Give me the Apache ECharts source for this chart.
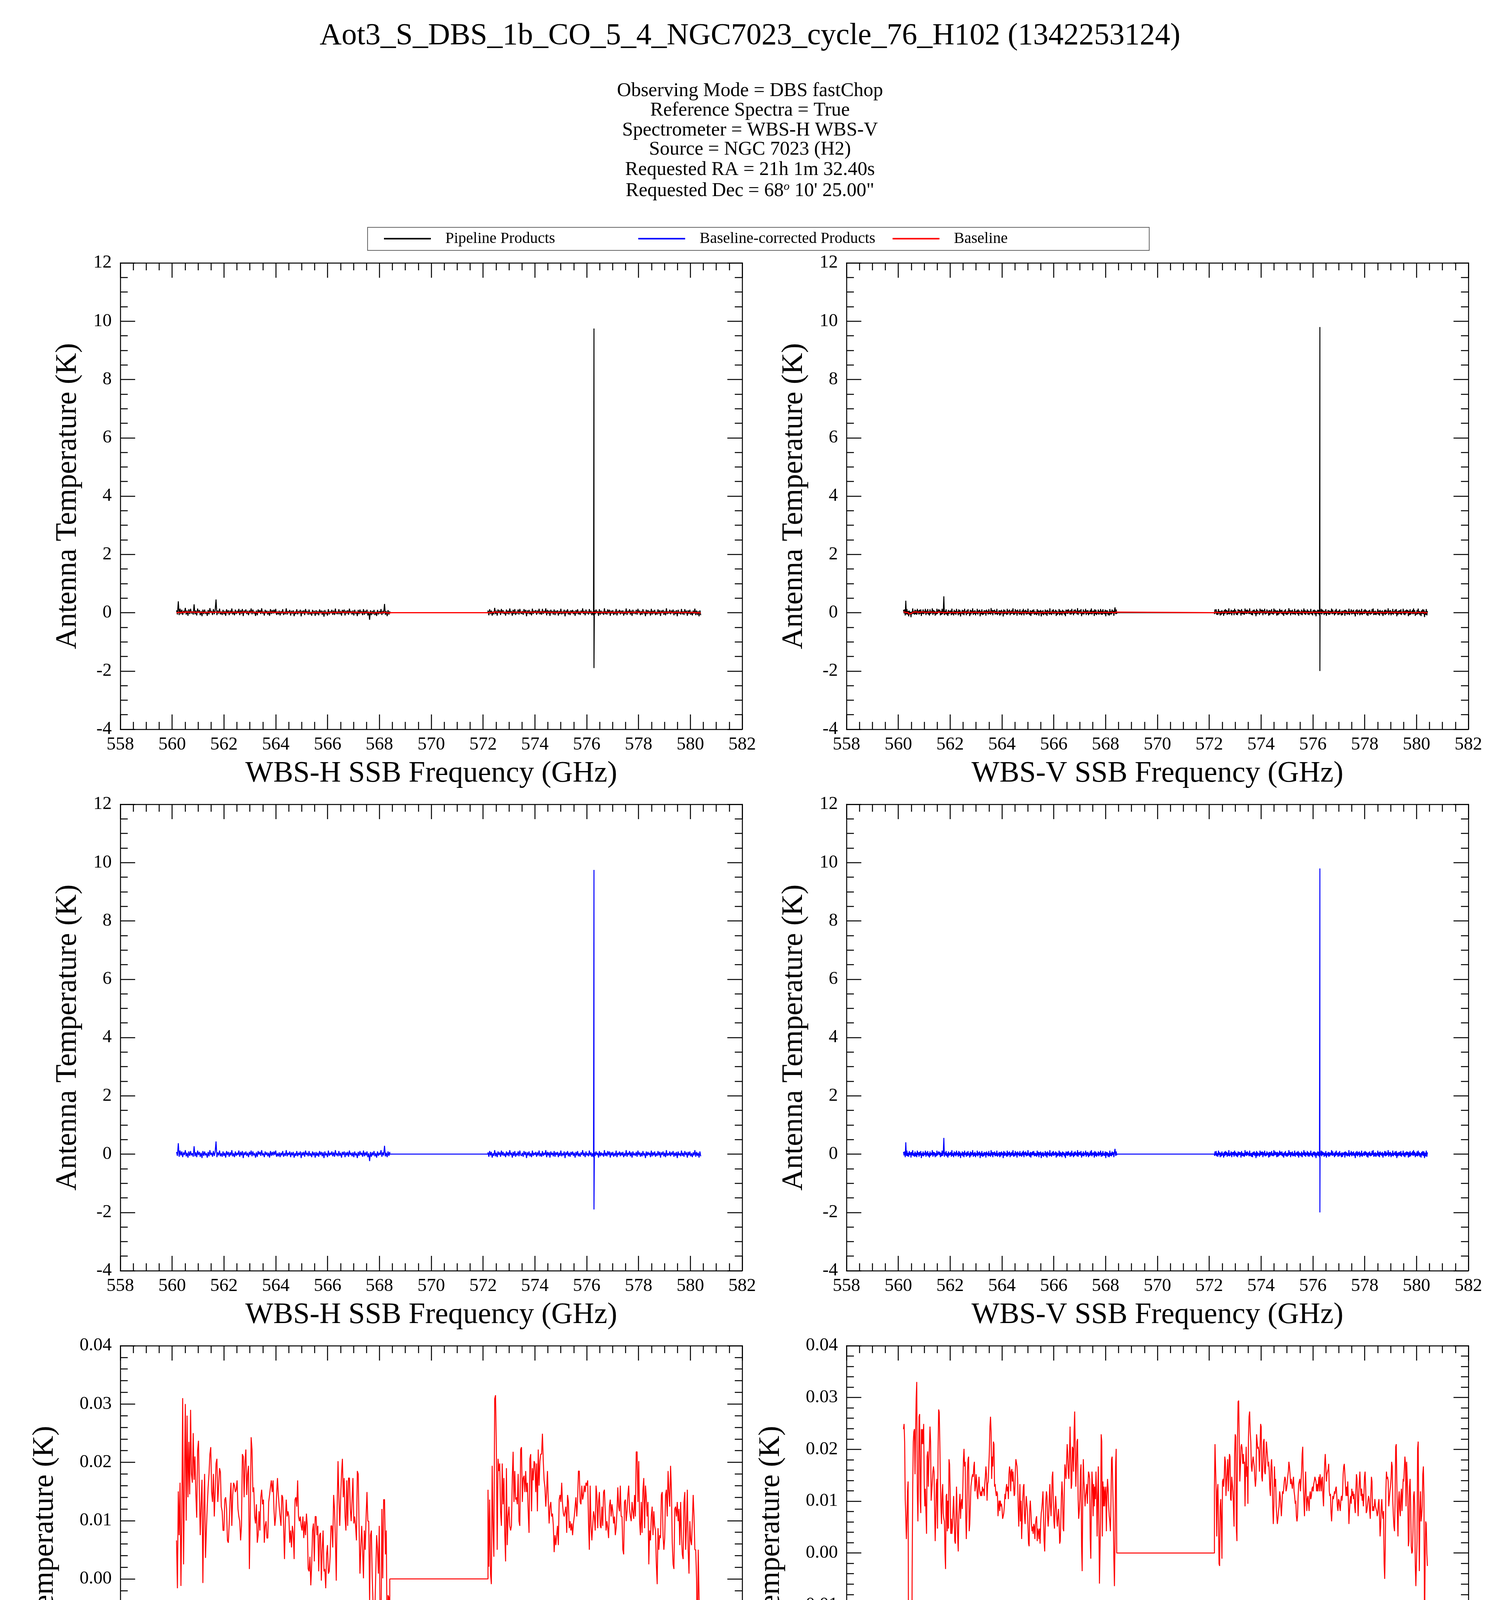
<!DOCTYPE html>
<html><head><meta charset="utf-8">
<script src="https://cdn.jsdelivr.net/npm/echarts@6/dist/echarts.min.js"></script>
<style>html,body{margin:0;padding:0;background:#fff}#c{width:3840px;height:4872px}</style>
</head><body><div id="c"></div>
<script>
// ---------- text ----------
const TITLE = 'Aot3_S_DBS_1b_CO_5_4_NGC7023_cycle_76_H102 (1342253124)';
const INFO_LINES = ['Observing Mode = DBS fastChop','Reference Spectra = True','Spectrometer = WBS-H WBS-V','Source = NGC 7023 (H2)','Requested RA = 21h 1m 32.40s',"Requested Dec = 68{sup|o} 10' 25.00\""];
const LEGEND_NAMES = ['Pipeline Products','Baseline-corrected Products','Baseline'];
const X_TITLES = ['WBS-H SSB Frequency (GHz)','WBS-V SSB Frequency (GHz)'];
const Y_TITLE = 'Antenna Temperature (K)';
// ---------- axes ----------
const X_RANGE = [558, 582], X_STEP = 2;
const Y_TOP = [-4, 12], Y_TOP_STEP = 2;
const Y_BASE_H = [-0.04, 0.04], Y_BASE_V = [-0.05, 0.04], Y_BASE_STEP = 0.01;
// ---------- channel ranges (GHz) ----------
const H_SEG1 = [560.17, 568.40], H_SEG2 = [572.19, 580.40];
const V_SEG1 = [560.20, 568.43], V_SEG2 = [572.20, 580.42];
const GAP_LEVEL = 0;
// ---------- strong line ----------
const H_LINE = {freq: 576.28, peak: 9.75, trough: -1.90};
const V_LINE = {freq: 576.27, peak: 9.80, trough: -2.00};
// ---------- baselines (K) ----------
const baseH1 = [0.0066,-0.0016,0.015,0.0075,0.0165,-0.0012,0.011,0.031,0.0025,0.017,0.030,0.010,0.028,0.014,0.0235,0.0145,0.029,0.018,0.0165,0.025,0.017,0.021,0.0145,0.0105,0.022,0.0237,0.0149,0.0075,0.013,0.017,-0.0007,0.0116,0.018,0.0036,0.0083,0.0124,0.0157,0.018,0.0214,0.0226,0.0149,0.0132,0.018,0.0107,0.0149,0.0198,0.0206,0.0132,0.016,0.019,0.0183,0.0124,0.0116,0.0083,0.0083,0.0136,0.014,0.012,0.0066,0.0062,0.0095,0.0136,0.0165,0.0091,0.0144,0.0165,0.016,0.0149,0.0153,0.0169,0.012,0.0107,0.0099,0.0066,0.0091,0.0214,0.021,0.014,0.0202,0.0222,0.0144,0.018,0.0194,0.0017,0.0107,0.0243,0.0222,0.0149,0.0157,0.0107,0.0095,0.0128,0.0062,0.0075,0.0116,0.0083,0.014,0.0153,0.0128,0.0136,0.0062,0.0091,0.0099,0.007,0.007,0.0132,0.0144,0.0157,0.0169,0.0149,0.0169,0.012,0.0091,0.0107,0.0144,0.0173,0.0144,0.0124,0.0107,0.0091,0.0144,0.014,0.0091,0.0034,0.0099,0.0136,0.0107,0.0116,0.0107,0.0062,0.0083,0.0054,0.0091,0.0079,0.0034,0.0136,0.014,0.0124,0.0169,0.0107,0.0099,0.0107,0.0091,0.0083,0.0107,0.007,0.0099,0.0075,0.0112,0.0091,0.0017,0.0013,0.0038,-0.0011,0.0025,0.0083,0.0095,0.003,0.0107,0.0107,0.0075,0.0091,0.0013,0.0075,0.0079,-0.0003,0.005,0.0083,0.0013,0.0017,-0.0016,0.0042,0.0058,0.0009,0.0013,0.0038,0.0091,0.0091,0.0054,0.0144,0.012,0.007,-0.0003,0.012,0.0202,0.014,0.0091,0.014,0.018,0.0206,0.014,0.0173,0.0107,0.0083,0.0169,0.0091,0.0173,0.0173,0.012,0.0099,0.0136,0.0173,0.0095,0.0107,0.0091,0.0066,0.0185,0.018,0.0091,0.0009,0.0054,0.0091,0.005,0.0001,0.0083,0.005,0.0107,0.0149,0.0099,0.0099,-0.004,0.0075,0.0083,0.0001,-0.0044,-0.0065,-0.0053,0.0009,0.0075,0.005,0.0009,0.0091,-0.0069,-0.0094,0.012,0.0001,0.0136,0.0136,0.0042,0.0083,-0.0122,-0.0028,-0.0032,-0.0286];
const baseH2 = [0.0153,0.0021,0.0136,0.0009,-0.0009,0.0194,0.0087,0.0038,0.0309,0.0315,0.0222,0.005,0.0206,0.0185,0.0198,0.0116,0.0091,0.0198,0.0128,0.0173,0.0079,0.003,0.019,0.0058,0.0107,0.0124,0.0091,0.0083,0.0091,0.0173,0.0218,0.0132,0.0185,0.0136,0.014,0.0128,0.018,0.0099,0.0091,0.0222,0.0226,0.0132,0.0173,0.0177,0.0149,0.0185,0.0149,0.0165,0.0116,0.0079,0.0206,0.0214,0.0116,0.019,0.0169,0.0202,0.0198,0.0149,0.0198,0.0116,0.0222,0.016,0.0202,0.0214,0.0214,0.0249,0.0202,0.0169,0.0157,0.0124,0.0149,0.0185,0.0132,0.0095,0.0124,0.0132,0.0107,0.0112,0.0091,0.0046,0.0075,0.0058,0.0075,0.0091,0.0058,0.0136,0.0144,0.0132,0.0165,0.0128,0.0112,0.0107,0.0116,0.0124,0.0079,0.0144,0.0132,0.0087,0.0099,0.0083,0.0095,0.0075,0.0095,0.0107,0.0124,0.014,0.0107,0.0136,0.0185,0.0185,0.0132,0.0128,0.016,0.0136,0.0144,0.016,0.0149,0.0165,0.016,0.0169,0.0099,0.005,0.016,0.0091,0.0066,0.0091,0.0116,0.0107,0.0083,0.016,0.0144,0.0087,0.0132,0.0149,0.0091,0.0087,0.0124,0.0091,0.0149,0.0153,0.0116,0.0083,0.0099,0.0087,0.007,0.0124,0.0136,0.0107,0.0128,0.0116,0.0095,0.0107,0.0075,0.0087,0.0116,0.0157,0.0124,0.0116,0.016,0.0107,0.0107,0.005,0.0042,0.0132,0.0136,0.0099,0.0116,0.0144,0.016,0.012,0.0107,0.0099,0.0132,0.0116,0.0103,0.0144,0.0107,0.0218,0.0218,0.0132,0.0202,0.0099,0.0075,0.0132,0.0079,0.0153,0.0173,0.0087,0.016,0.014,0.0107,0.0132,0.0025,0.0083,0.0066,0.0107,0.0124,0.0075,0.0116,0.0091,0.0083,0.0025,-0.0009,0.0087,0.005,0.0075,0.007,0.0144,0.0149,0.0075,0.005,0.007,0.0144,0.0153,0.0107,0.0185,0.0149,0.0124,0.0194,0.0153,0.0062,0.0025,0.0017,0.012,0.0124,0.0107,0.0132,0.0099,0.012,0.0058,0.0132,0.0075,0.0042,0.0034,0.0132,0.0149,0.005,0.0091,0.0153,0.005,0.0009,0.0099,0.0066,0.0058,0.0099,0.0144,0.0107,0.005,0.005,0.0001,-0.0128,0.005,-0.0032,-0.0114,-0.0077];
const baseV1 = [0.0239,0.0249,0.0215,0.0104,0.0071,0.0027,0.0061,0.0119,0.0138,-0.0343,-0.0348,-0.0304,-0.029,-0.0348,-0.0386,-0.004,0.0124,0.0215,0.0234,0.0239,0.0152,0.0234,0.0297,0.033,0.0119,0.0061,0.0138,0.0263,0.0268,0.0101,0.0077,0.0239,0.021,0.0239,0.021,0.0249,0.0133,0.009,0.0124,0.0077,0.0037,0.0186,0.0196,0.0128,0.0176,0.0205,0.0244,0.0215,0.0101,0.0119,0.0138,0.0157,0.0167,0.0157,0.0085,0.0023,0.0071,0.0133,0.0143,0.0047,0.0196,0.0277,0.0272,0.0215,0.0138,0.009,0.0056,0.0114,0.0133,0.0077,0.0066,0.0061,-0.0001,-0.0031,0.011,0.0114,0.0042,0.0101,0.0047,0.0181,0.0171,0.0119,0.0037,0.0066,0.0037,0.0051,0.0085,0.011,0.0071,0.0023,0.0018,0.0071,0.0128,0.0128,0.0032,0.0003,0.0071,0.0095,0.0114,0.0066,0.0095,0.0104,0.0085,0.0124,0.0181,0.0201,0.0167,0.0176,0.0071,0.0027,0.0071,0.0157,0.0181,0.0186,0.0042,0.0056,0.009,0.0128,0.0138,0.0147,0.0152,0.0147,0.0167,0.0176,0.0119,0.0128,0.0152,0.0138,0.011,0.0104,0.0128,0.0147,0.0124,0.0114,0.011,0.0119,0.011,0.0128,0.0119,0.0124,0.011,0.0133,0.0147,0.0167,0.0152,0.0101,0.0133,0.0138,0.0167,0.0196,0.0244,0.0263,0.0234,0.0143,0.0186,0.0167,0.0215,0.021,0.0128,0.0133,0.0119,0.011,0.0119,0.0114,0.0071,0.009,0.0101,0.0081,0.0101,0.009,0.0095,0.0085,0.0066,0.0071,0.0077,0.009,0.0114,0.0104,0.0124,0.0133,0.0119,0.0128,0.0104,0.0152,0.0167,0.0157,0.0119,0.0157,0.0162,0.0138,0.0157,0.0133,0.011,0.0114,0.0157,0.0181,0.0181,0.0167,0.0143,0.009,0.0051,0.009,0.0133,0.0061,0.0101,0.0027,0.0066,0.0104,0.0128,0.0133,0.0071,0.0056,0.0085,0.011,0.011,0.0081,0.0051,0.0018,0.0013,0.0081,0.0101,0.0081,0.0056,0.0042,0.0051,0.0037,0.0056,0.0051,0.0027,0.0056,0.0066,0.0071,0.0023,0.0047,0.0042,0.0027,0.0047,0.0018,0.0056,0.0077,0.0085,0.0101,0.0119,0.0071,0.0023,0.0003,0.0051,0.0101,0.0119,0.011,0.0071,0.0051,0.0071,0.011,0.0133,0.009,0.0071,0.0101,0.0147,0.0157,0.0101,0.0061,0.0047,0.0085,0.011,0.009,0.0066,0.0051,0.0071,0.0085,0.0061,0.0018,0.0023,0.0061,0.011,0.0138,0.011,0.0047,0.0042,0.0119,0.0171,0.0157,0.0143,0.0176,0.021,0.0191,0.0152,0.0143,0.0186,0.0244,0.0244,0.0124,0.0133,0.0205,0.0201,0.0157,0.0234,0.0273,0.0201,0.0128,0.0167,0.0215,0.022,0.0104,0.0066,0.0081,0.0104,0.0157,0.0171,0.0013,-0.0035,0.0101,0.0181,0.0143,0.0119,0.009,0.011,0.0119,0.0133,0.0095,0.0128,0.0157,0.0152,0.0143,0.0027,-0.0011,0.0095,0.0157,0.0133,0.0071,0.0133,0.009,0.0128,0.0104,0.0157,0.0114,0.0032,0.011,0.0167,0.0061,-0.0059,-0.0059,0.0071,0.0229,0.0215,0.0032,0.0138,0.009,0.0128,0.009,0.0119,0.0128,0.0042,0.011,0.0143,0.0124,0.009,0.0071,0.0061,0.0042,0.0101,0.0181,0.0186,0.0133,0.0081,-0.0011,-0.0064,0.0023,0.0167,0.0201,0.0003];
const baseV2 = [0.0128,0.021,0.021,0.0119,0.0032,0.0119,0.0133,0.0061,-0.0021,-0.0025,0.009,0.0104,0.0061,-0.0011,0.0138,0.0143,0.0128,0.0147,0.0186,0.0176,0.011,0.0138,0.0157,0.0181,0.0119,0.0157,0.0191,0.0186,0.0104,0.0101,0.0147,0.0133,0.0119,0.009,0.0051,0.0191,0.0229,0.0224,0.0047,0.0023,0.0224,0.0292,0.0294,0.0215,0.0138,0.0167,0.0205,0.021,0.0201,0.0172,0.0191,0.0172,0.0176,0.009,0.0162,0.0205,0.0147,0.0167,0.0095,0.0224,0.0263,0.0273,0.0234,0.0215,0.0167,0.0157,0.0176,0.0186,0.0176,0.0167,0.0143,0.0128,0.0143,0.0229,0.0229,0.0201,0.0205,0.0196,0.0157,0.0201,0.0249,0.0244,0.0147,0.0138,0.0176,0.0215,0.022,0.0157,0.0152,0.0176,0.0215,0.0215,0.0186,0.0167,0.0176,0.0157,0.0124,0.011,0.0167,0.0181,0.0157,0.009,0.0056,0.009,0.0167,0.0128,0.0143,0.009,0.0071,0.0056,0.0066,0.0081,0.009,0.0119,0.011,0.009,0.0071,0.0095,0.0119,0.0114,0.0124,0.0138,0.0147,0.0143,0.0119,0.0124,0.0133,0.0147,0.0157,0.0176,0.0167,0.0152,0.0133,0.0143,0.0133,0.0124,0.0138,0.0147,0.0119,0.011,0.0095,0.0101,0.0071,0.0061,0.0071,0.011,0.0133,0.0133,0.0143,0.0119,0.0119,0.0157,0.0191,0.0205,0.0128,0.0101,0.0071,0.0119,0.0157,0.0114,0.0081,0.0104,0.011,0.0095,0.0081,0.011,0.0119,0.0104,0.011,0.0124,0.0128,0.0119,0.0133,0.0138,0.0147,0.0147,0.0138,0.0119,0.0133,0.0119,0.0133,0.0147,0.0119,0.0152,0.0138,0.0119,0.0143,0.0147,0.011,0.009,0.0133,0.0172,0.0191,0.0167,0.0138,0.0152,0.0157,0.0162,0.0172,0.0119,0.011,0.0114,0.0077,0.0061,0.0085,0.011,0.0104,0.011,0.0119,0.0114,0.0124,0.0128,0.011,0.009,0.0081,0.0104,0.0101,0.009,0.0081,0.0101,0.011,0.0101,0.0114,0.0152,0.0167,0.0172,0.0152,0.0128,0.011,0.0128,0.011,0.0138,0.0101,0.0056,0.0081,0.0101,0.011,0.0095,0.0124,0.011,0.0119,0.0104,0.0114,0.009,0.0077,0.0119,0.0152,0.0143,0.0104,0.0071,0.011,0.0138,0.0157,0.0128,0.011,0.0124,0.0101,0.0114,0.009,0.011,0.0147,0.0157,0.0128,0.0077,0.0081,0.009,0.0101,0.011,0.0104,0.0081,0.0066,0.0114,0.0147,0.0138,0.0081,0.009,0.0081,0.009,0.0104,0.009,0.0085,0.0081,0.0071,0.0077,0.0095,0.0104,0.0071,0.0032,0.0051,0.009,0.0104,0.0077,0.0066,0.0081,-0.0021,-0.005,0.0013,0.0119,0.0157,0.0143,0.0147,0.0138,0.009,0.009,0.0119,0.0128,0.0143,0.0176,0.0167,0.0101,0.0071,0.0051,0.0042,0.0101,0.0205,0.021,0.0138,0.0071,0.0032,0.0101,0.0119,0.0085,0.0071,0.011,0.0124,0.0081,0.011,0.0143,0.0138,0.0162,0.0186,0.0172,0.009,0.0176,0.0176,0.011,0.0013,0.0023,0.0128,0.0143,0.009,0.0013,-0.0001,0.0003,0.0042,0.011,0.0119,0.009,-0.0025,-0.0064,-0.0064,0.0023,0.0201,0.0215,0.0071,-0.0035,0.0081,0.0119,0.0061,0.0071,0.009,0.0152,0.0167,0.011,-0.0155,-0.0016,0.0061,0.0056,-0.0001,-0.0025];
// ---------- residual noise after baseline removal (units of RES_UNIT K) ----------
const RES_UNIT = 0.015;
const resH1 = [5,-4,25,-6,8,-3,6,-7,4,-2,9,-5,3,-8,6,-4,7,-3,2,-6,18,-5,4,-7,8,-2,5,-6,3,-9,7,-4,6,-3,2,-8,5,-5,9,-2,3,-6,7,-4,5,29,-7,4,-3,8,-5,2,-6,6,-4,3,-8,7,-2,5,-6,4,-3,9,-5,2,-7,6,-4,3,-2,8,-6,5,-3,7,-9,4,-2,6,-4,3,-7,5,-2,8,-5,6,-3,2,-8,4,-6,7,-1,5,-4,9,-3,2,-7,6,-2,4,-5,3,-8,7,-4,5,-3,6,-2,8,-6,2,-5,4,-7,3,-3,7,-6,2,-4,9,-5,3,-2,6,-7,4,-3,5,-8,2,-4,7,-5,3,-2,6,-9,4,-3,5,-6,8,-2,3,-5,7,-4,2,-7,6,-3,4,-8,5,-4,3,-6,7,-2,5,-5,4,-9,6,-3,2,-7,8,-4,3,-2,6,-5,4,-6,9,-3,2,-5,7,-4,3,-8,5,-2,6,-7,4,-3,5,-6,8,-2,3,-5,4,-7,6,-3,2,-9,5,-4,7,-2,3,-6,8,-5,4,-3,6,-7,2,-16,5,-6,4,-3,7,-5,2,-8,6,-4,3,-2,9,-6,4,-3,19,-5,3,-7,6,-4,5];
const resH2 = [4,-6,7,-3,5,-8,2,-4,9,-5,3,-7,6,-2,4,-6,8,-3,5,-4,2,-7,6,-3,4,-5,9,-2,3,-8,5,-4,7,-6,2,-3,6,-5,8,-2,-4,3,-6,7,-2,5,-9,4,-3,6,-5,2,-7,8,-4,3,-2,5,-6,4,-3,8,-5,2,-6,7,-4,3,-2,9,-7,5,-3,4,-8,6,-2,3,-5,7,-6,4,-2,5,-7,3,-4,8,-5,2,-3,6,-9,4,-2,7,-5,3,-6,5,-2,6,-4,3,-8,5,-3,7,-5,2,-6,4,-2,9,-4,3,-7,6,-3,2,-5,8,-3,4,-6,2,-7,5,-4,6,-2,3,-8,7,-5,4,-3,2,-6,9,-4,3,-5,7,-2,6,-8,4,-3,5,-6,2,-4,8,-7,3,-2,6,-5,4,-3,5,-7,2,-4,9,-6,3,-2,7,-5,4,-8,6,-3,2,-4,5,-6,8,-2,4,-6,3,-5,7,-3,2,-9,6,-4,5,-2,3,-7,8,-5,4,-3,6,-6,2,-4,7,-3,5,-8,4,-2,6,-5,3,-7,9,-4,2,-3,6,-5,4,-2,7,-6,3,-4,5,-9,6,-3,2,-5,8,-4,3,-6,7,-2,4,-8,5,-3,6,-5,2,-7,4,-3,9,-6,5,-4,3,-8,6,-5];
const resV1 = [5,-3,6,-7,27,-4,8,-5,3,-6,7,-2,4,-8,5,-3,9,-4,2,-6,6,-5,3,-7,8,-2,4,-6,5,-3,7,-9,2,-4,6,-5,3,-2,8,-6,4,-3,7,-5,2,-8,6,-4,3,-2,9,-6,5,-3,4,-7,2,-5,8,-3,-4,6,-2,5,-7,3,-5,8,-4,2,37,-6,4,-3,7,-5,2,-8,6,-4,3,-2,5,-6,9,-4,2,-7,6,-3,4,-5,8,-2,3,-6,7,-4,5,-9,2,-3,6,-5,4,-7,8,-2,3,-6,5,-4,7,-3,2,-8,6,-5,4,-2,9,-6,3,-4,5,-7,2,-3,8,-5,4,-2,6,-9,3,-4,7,-6,2,-5,5,-3,4,-8,6,-2,3,-5,7,-4,2,-6,9,-3,5,-7,4,-2,6,-5,3,-4,8,-6,2,-3,5,-7,4,-5,6,-2,3,-9,7,-4,5,-3,2,-6,8,-5,4,-2,6,-7,3,-4,5,-3,9,-6,2,-5,7,-3,4,-8,6,-2,3,-5,7,-4,2,-6,5,-3,8,-7,4,-2,6,-5,3,-4,9,-3,2,-6,5,-8,4,-3,6,-2,7,-5,3,-4,2,-6,8,-3,5,-7,4,-2,6,-9,3,-4,5,-6,2,-3,7,-5,4,-8,6,-2,3,-5,9,-4,2,-6,5,-3,7,-4,3,-2,6,-8,4,-5,2,-3,8,-6,5,-4,3,-7,6,-2,4,-5,2,-9,6,-3,5,-4,7,-2,3,-6,4,-5,8,-3,2,-7,5,-4,6,-2,3,-5,9,-6,4,-2,5,-3,7,-8,2,-4,6,-5,3,-2,8,-6,4,-3,5,-7,2,-4,6,-3,9,-5,3,-2,4,-8,7,-4,5,-6,2,-3,6,-5,4,-2,8,-6,3,-5,7,-3,2,-4,6,-9,5,-3,4,-6,2,-7,8,-4,3,-5,6,-2,4,-7,5,12,-4,6,-3];
const resV2 = [-4,6,-3,7,-5,2,-6,8,-2,4,-7,3,-5,6,-3,2,-8,5,-4,7,-2,5,-6,3,-4,9,-5,2,-3,6,-7,4,-2,5,-6,8,-3,4,-5,2,-7,6,-3,5,-2,4,-8,7,-4,3,-5,2,-6,9,-3,5,-4,6,-2,3,-5,8,-4,2,-6,3,-7,5,-2,6,-4,3,-9,7,-5,4,-3,2,-6,8,-3,5,-2,6,-7,4,-3,8,-5,2,-4,6,-2,3,-8,5,-6,4,-3,7,-4,2,-5,9,-3,6,-2,4,-7,5,-6,3,-4,8,-2,5,-3,6,-5,2,-8,4,-3,7,-5,2,-6,3,-4,9,-2,5,-7,4,-3,6,-5,2,-4,8,-6,3,-2,5,-4,7,-8,4,-3,2,-5,6,-7,3,-2,9,-4,5,-6,3,-2,7,-5,4,-6,3,-3,8,-4,2,-7,5,-2,6,-5,4,-9,3,-3,6,-4,5,-7,2,-3,8,-5,6,-2,4,-6,3,-4,7,-8,2,-3,5,-6,4,-5,3,-2,9,-4,6,-3,2,-7,5,-4,8,-2,3,-6,4,-5,7,-3,2,-7,4,-6,3,-2,5,-8,6,-3,4,-5,2,-4,9,-6,3,-2,7,-5,4,-3,6,-4,2,-9,5,-3,7,-5,4,-2,6,-7,3,-4,8,-6,2,-3,5,-4,7,-2,5,-6,3,-8,4,-3,6,-5,2,-4,7,-2,9,-6,3,-5,4,-6,2,-3,8,-5,4,-7,6,-2,3,-4,5,-8,2,-3,7,-5,6,-4,3,-2,9,-6,4,-3,5,-7,2,-4,8,-5,3,-2,6,-4,7,-9,3,-5,4,-3,5,-4,7,-6,2,-2,8,-5,3,-7,4,-3,6,-2,5,-8,4,-6,7,-5,3,-2,6,-4,9,-3,5,-7,2,-4,6,-5,8,-3,4,-6,2,-8,5,-3,7,-4,6,-9,3,-5,8,-6,4];

// ---------- build ----------
function channels(range, n){ const out=[]; for(let i=0;i<n;i++) out.push(range[0]+i*(range[1]-range[0])/(n-1)); return out; }
function buildSpectra(seg1, seg2, b1, b2, r1, r2, line){
  const f1 = channels(seg1, b1.length), f2 = channels(seg2, b2.length);
  const baseline = [], pipeline = [], corrected = [];
  f1.forEach((f,i)=>{ baseline.push([f,b1[i]]); pipeline.push([f,b1[i]+r1[i]*RES_UNIT]); corrected.push([f,r1[i]*RES_UNIT]); });
  [[seg1[1],GAP_LEVEL],[seg2[0],GAP_LEVEL]].forEach(p=>{ baseline.push(p.slice()); pipeline.push(p.slice()); corrected.push(p.slice()); });
  let inserted = false;
  f2.forEach((f,i)=>{
    if(!inserted && f >= line.freq){
      pipeline.push([line.freq,line.peak],[line.freq,line.trough]);
      corrected.push([line.freq,line.peak],[line.freq,line.trough]);
      inserted = true;
    }
    baseline.push([f,b2[i]]); pipeline.push([f,b2[i]+r2[i]*RES_UNIT]); corrected.push([f,r2[i]*RES_UNIT]);
  });
  return {baseline, pipeline, corrected};
}
const H = buildSpectra(H_SEG1,H_SEG2,baseH1,baseH2,resH1,resH2,H_LINE);
const V = buildSpectra(V_SEG1,V_SEG2,baseV1,baseV2,resV1,resV2,V_LINE);

const FONT = 'Liberation Serif';
const LW = 2.5;
const COLS = [308, 2167], ROWS = [673, 2059, 3445], GW = 1592, GH = 1194;
const grids = [];
ROWS.forEach(t=>COLS.forEach(l=>grids.push({left:l, top:t, width:GW, height:GH})));

const xAxes = [], yAxes = [];
grids.forEach((g,gi)=>{
  const col = gi%2, row = Math.floor(gi/2);
  const base = {gridIndex:gi, type:'value', min:X_RANGE[0], max:X_RANGE[1], interval:X_STEP,
    axisLine:{show:true,onZero:false,lineStyle:{color:'#000',width:LW}},
    axisTick:{show:true,inside:true,length:38,lineStyle:{color:'#000',width:LW}},
    minorTick:{show:true,splitNumber:4,length:19,lineStyle:{color:'#000',width:LW}},
    splitLine:{show:false}, minorSplitLine:{show:false}};
  xAxes.push(Object.assign({}, base, {position:'bottom',
    axisLabel:{fontFamily:FONT,fontSize:47,color:'#000',margin:16},
    name:X_TITLES[col], nameLocation:'middle', nameGap:76,
    nameTextStyle:{fontFamily:FONT,fontSize:76,color:'#000'}}));
  xAxes.push(Object.assign({}, base, {position:'top', axisLabel:{show:false}}));
  const isBase = row===2;
  const yr = isBase ? (col===0?Y_BASE_H:Y_BASE_V) : Y_TOP;
  const ybase = {gridIndex:gi, type:'value', min:yr[0], max:yr[1], interval:isBase?Y_BASE_STEP:Y_TOP_STEP,
    axisLine:{show:true,onZero:false,lineStyle:{color:'#000',width:LW}},
    axisTick:{show:true,inside:true,length:38,lineStyle:{color:'#000',width:LW}},
    minorTick:{show:true,splitNumber:isBase?5:4,length:19,lineStyle:{color:'#000',width:LW}},
    splitLine:{show:false}, minorSplitLine:{show:false}};
  yAxes.push(Object.assign({}, ybase, {position:'left',
    axisLabel:{fontFamily:FONT,fontSize:47,color:'#000',margin:22,
      formatter: v => isBase ? (Math.abs(v)<1e-9?0:v).toFixed(2) : String(Math.round(v))},
    name:Y_TITLE, nameLocation:'middle', nameRotate:90, nameGap:isBase?155:96,
    nameTextStyle:{fontFamily:FONT,fontSize:76,color:'#000'}}));
  yAxes.push(Object.assign({}, ybase, {position:'right', axisLabel:{show:false}}));
});

function ser(name, data, gi, color, width){
  return {name, type:'line', data, xAxisIndex:2*gi, yAxisIndex:2*gi, showSymbol:false, symbol:'none',
    sampling:null, animation:false, lineStyle:{color, width}, itemStyle:{color}, z:2};
}
const series = [
  ser(LEGEND_NAMES[0], H.pipeline, 0, '#000000', 2.5),
  ser(LEGEND_NAMES[2], H.baseline, 0, '#ff0000', 3),
  ser(LEGEND_NAMES[0], V.pipeline, 1, '#000000', 2.5),
  ser(LEGEND_NAMES[2], V.baseline, 1, '#ff0000', 3),
  ser(LEGEND_NAMES[1], H.corrected, 2, '#0000ff', 2.5),
  ser(LEGEND_NAMES[1], V.corrected, 3, '#0000ff', 2.5),
  ser(LEGEND_NAMES[2], H.baseline, 4, '#ff0000', 2.5),
  ser(LEGEND_NAMES[2], V.baseline, 5, '#ff0000', 2.5)
];

const legendLefts = [983, 1634, 2285];
const legends = LEGEND_NAMES.map((n,i)=>({data:[n], left:legendLefts[i], top:591, padding:0, orient:'horizontal',
  icon:'rect', itemWidth:120, itemHeight:4, selectedMode:false,
  textStyle:{fontFamily:FONT,fontSize:40,color:'#000',padding:[0,0,0,32]}}));

const infoY = [233, 283, 334, 383, 435, 489];
const graphic = [
  {type:'text', left:'center', top:54, style:{text:TITLE, font:'78px "Liberation Serif"', fill:'#000'}},
  ...INFO_LINES.map((t,i)=>({type:'text', x:1920, y:infoY[i], style:{text:t, font:'50px "Liberation Serif"', fill:'#000', align:'center', verticalAlign:'middle',
    rich:{sup:{fontFamily:FONT,fontSize:30,fontStyle:'italic',verticalAlign:'top',padding:[0,0,22,0]}}}})),
  {type:'rect', shape:{x:941,y:582,width:2001,height:59}, style:{fill:'none',stroke:'#666',lineWidth:2}}
];

const chart = echarts.init(document.getElementById('c'), null, {renderer:'canvas'});
chart.setOption({animation:false, backgroundColor:'#fff', grid:grids, xAxis:xAxes, yAxis:yAxes, series, legend:legends, graphic});
</script></body></html>
